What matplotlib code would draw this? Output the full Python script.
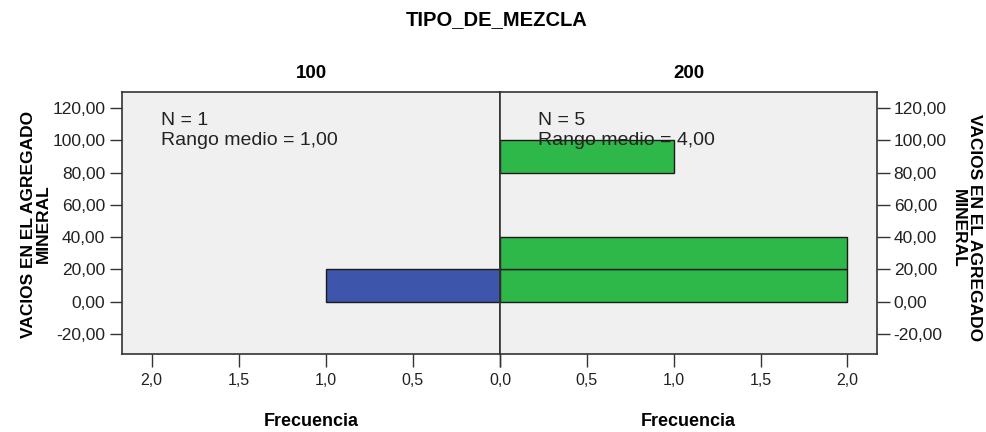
import matplotlib
matplotlib.use("Agg")
import matplotlib.pyplot as plt
import numpy as np

# histograma por grupo (Mann-Whitney, SPSS)
grupos = ["100", "200"]
bordes = [0, 20, 40, 60, 80, 100]
frec_100 = [1, 0, 0, 0, 0]
frec_200 = [2, 2, 0, 0, 1]
n_grupo = [1, 5]
rango_medio = ["1,00", "4,00"]
y_ticks = [-20, 0, 20, 40, 60, 80, 100, 120]
x_ticks = [0.0, 0.5, 1.0, 1.5, 2.0]

plt.rcParams["font.family"] = ["Liberation Sans", "DejaVu Sans"]

colores = ["#3d55aa", "#2eb84a"]
fondo = "#f0f0f0"
W, H = 987, 432

fig = plt.figure(figsize=(9.87, 4.32), dpi=100)
ax1 = fig.add_axes([122/W, 1-354/H, 378/W, 262/H])
ax2 = fig.add_axes([500/W, 1-354/H, 377/W, 262/H])

def coma(v, dec):
    return f"{v:.{dec}f}".replace(".", ",")

for ax, frec, col, g, n, rm in zip([ax1, ax2], [frec_100, frec_200], colores, grupos, n_grupo, rango_medio):
    ax.set_facecolor(fondo)
    for lo, hi, c in zip(bordes[:-1], bordes[1:], frec):
        if c > 0:
            ax.barh(lo, c, height=hi - lo, align="edge", color=col,
                    edgecolor="#1a1a1a", linewidth=1.0, zorder=2)
    ax.set_ylim(-32.4, 130)
    ax.set_yticks(y_ticks)
    ax.set_yticklabels([coma(v, 2) for v in y_ticks], fontsize=12.5, color="#222222")
    ax.set_xticks(x_ticks)
    ax.tick_params(length=9, width=1, color="#333333", direction="out", pad=3)
    ax.tick_params(axis="x", pad=5)
    for s in ax.spines.values():
        s.set_color("#333333")
        s.set_linewidth(1.2)
    ax.set_title(g, fontsize=13.5, fontweight="bold", pad=10)
    ax.set_xlabel("Frecuencia", fontsize=13, fontweight="bold", labelpad=18)
    ax.text(0.102, 0.925, f"N = {n}\nRango medio = {rm}", transform=ax.transAxes,
            fontsize=14, va="top", ha="left", linespacing=1.25, zorder=3, color="#222222")

# el 0,0 central solo se rotula una vez
ax1.set_xticklabels([""] + [coma(v, 1) for v in x_ticks[1:]], fontsize=11.5, color="#222222")
ax2.set_xticklabels([coma(v, 1) for v in x_ticks], fontsize=11.5, color="#222222")

ax1.set_xlim(2.17, 0)
ax2.set_xlim(0, 2.17)
ax2.yaxis.tick_right()

etiqueta = "VACIOS EN EL AGREGADO\nMINERAL"
fig.text(36/W, 1-224/H, etiqueta, fontsize=12.5, fontweight="bold", rotation=90,
         ha="center", va="center", multialignment="center", linespacing=0.95)
fig.text(966/W, 1-228/H, etiqueta, fontsize=12.5, fontweight="bold", rotation=270,
         ha="center", va="center", multialignment="center", linespacing=1.1)

fig.text(0.503, 1 - 20/H, "TIPO_DE_MEZCLA", fontsize=14.5, fontweight="bold",
         ha="center", va="center")

fig.savefig("out.png", dpi=100, facecolor="white")
